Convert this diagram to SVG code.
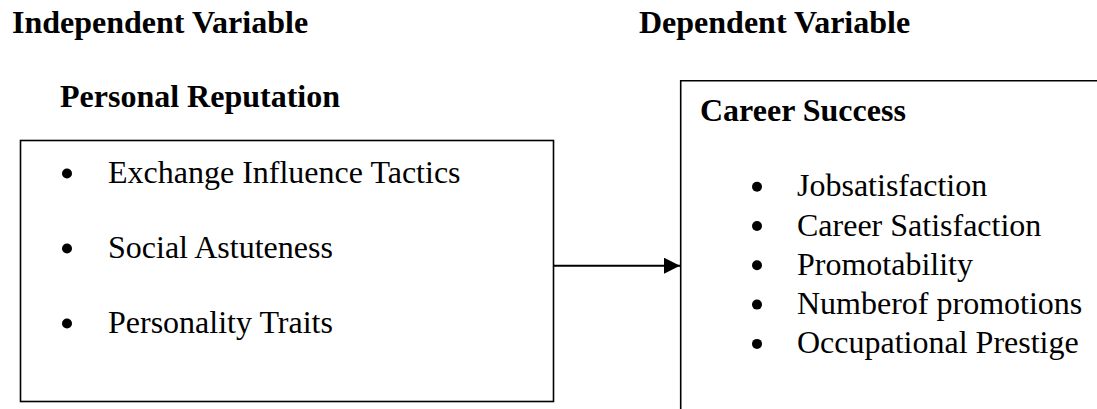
<svg xmlns="http://www.w3.org/2000/svg" width="1097" height="409" viewBox="0 0 1097 409">
<style>
.h{font-family:"Liberation Serif","Times New Roman",serif;font-weight:bold;font-size:32px;fill:#000}
.t{font-family:"Liberation Serif","Times New Roman",serif;font-size:32px;fill:#000}
.box{fill:none;stroke:#000;stroke-width:1.6}
.b{fill:#000}
</style>
<defs>
<marker id="arr" markerWidth="16" markerHeight="16" refX="16" refY="8" orient="auto" markerUnits="userSpaceOnUse">
<path d="M0,0 L16,8 L0,16 Z" fill="#000"/>
</marker>
</defs>
<rect width="1097" height="409" fill="#fff"/>
<g id="headings">
<text class="h" x="12" y="33">Independent Variable</text>
<text class="h" x="639" y="33">Dependent Variable</text>
</g>
<g id="personal-reputation">
<text class="h" x="60" y="107">Personal Reputation</text>
<rect class="box" x="20.5" y="140.5" width="533" height="261"/>
<circle class="b" cx="67" cy="173.5" r="5"/>
<text class="t" x="108" y="183">Exchange Influence Tactics</text>
<circle class="b" cx="67" cy="248.5" r="5"/>
<text class="t" x="108" y="258">Social Astuteness</text>
<circle class="b" cx="67" cy="323.5" r="5"/>
<text class="t" x="108" y="333">Personality Traits</text>
</g>
<g id="career-success">
<path class="box" d="M1097,80.7 H680.7 V409"/>
<text class="h" x="700" y="121">Career Success</text>
<circle class="b" cx="757" cy="186.7" r="5"/>
<text class="t" x="797" y="196">Jobsatisfaction</text>
<circle class="b" cx="757" cy="226" r="5"/>
<text class="t" x="797" y="235.5">Career Satisfaction</text>
<circle class="b" cx="757" cy="265.3" r="5"/>
<text class="t" x="797" y="274.8">Promotability</text>
<circle class="b" cx="757" cy="304.6" r="5"/>
<text class="t" x="797" y="314">Numberof promotions</text>
<circle class="b" cx="757" cy="343.9" r="5"/>
<text class="t" x="797" y="353.3">Occupational Prestige</text>
</g>
<g id="connectors">
<line x1="554" y1="265.7" x2="680" y2="265.7" stroke="#000" stroke-width="2" marker-end="url(#arr)"/>
</g>
</svg>
